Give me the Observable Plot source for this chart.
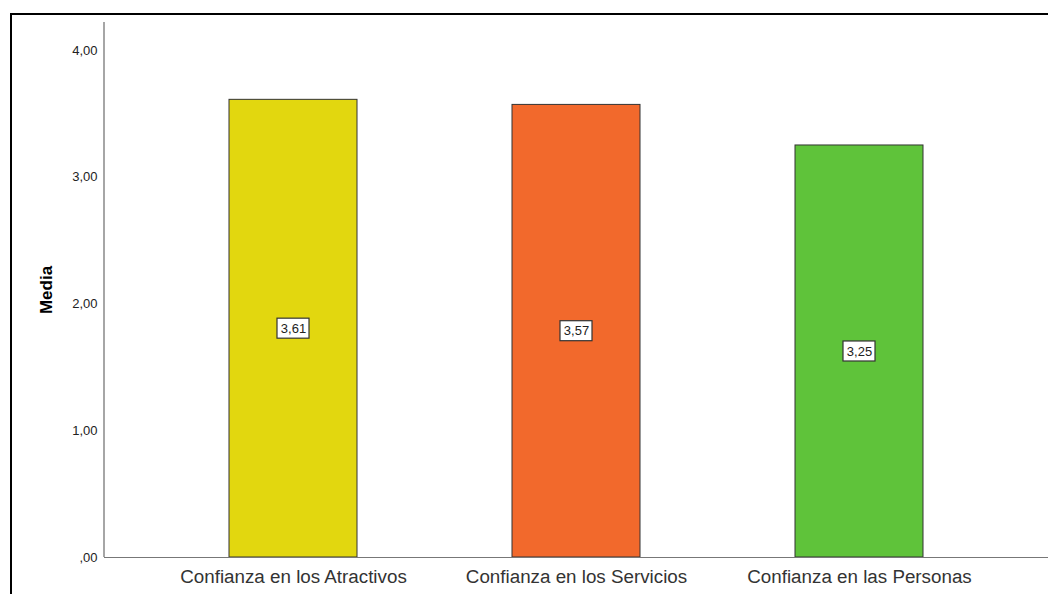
<!DOCTYPE html>
<html>
<head>
<meta charset="utf-8">
<script src="https://cdn.jsdelivr.net/npm/d3@7"></script>
<script src="https://cdn.jsdelivr.net/npm/@observablehq/plot@0.6"></script>
<style>
  html, body { margin: 0; padding: 0; background: #fff; }
  #wrap { position: relative; width: 1048px; height: 594px; overflow: hidden; }
  #frame { position: absolute; left: 10px; top: 13px; width: 1100px; height: 700px;
           border-left: 2px solid #000; border-top: 2px solid #000; pointer-events: none; }
  #chart { position: absolute; left: 0; top: 0; }
</style>
</head>
<body>
<div id="wrap"><div id="chart"></div><div id="frame"></div></div>
<script>
const categories = ["Confianza en los Atractivos", "Confianza en los Servicios", "Confianza en las Personas"];
const means = [3.61, 3.57, 3.25];
const colors = ["#e2d70f", "#f2692c", "#5fc33a"];
const yTicks = [0, 1, 2, 3, 4];
const yTickLabels = [",00", "1,00", "2,00", "3,00", "4,00"];
const yMax = 4.22;

const data = categories.map((c, i) => ({cat: categories[i], value: means[i], color: colors[i]}));
const fmt = v => v.toFixed(2).replace(".", ",");

const yAxisLine = (index, scales, values, dims) => {
  const x = dims.marginLeft;
  return d3.create("svg:line")
    .attr("x1", x).attr("x2", x)
    .attr("y1", scales.y(yMax)).attr("y2", scales.y(0))
    .attr("stroke", "#a6a6a6").attr("stroke-width", 2)
    .node();
};

const plot = Plot.plot({
  width: 1048,
  height: 594,
  marginLeft: 104,
  marginRight: 0,
  marginTop: 22,
  marginBottom: 37,
  style: {fontFamily: "'Liberation Sans', Arial, sans-serif", background: "transparent"},
  x: {domain: categories, paddingInner: 0.548, paddingOuter: 0.441, label: null},
  y: {domain: [0, yMax], label: null},
  marks: [
    Plot.barY(data, {x: "cat", y: "value", fill: "color", stroke: "#333", strokeWidth: 1}),
    Plot.ruleY([0], {stroke: "#777", strokeWidth: 1}),
    yAxisLine,
    Plot.axisY({ticks: yTicks, tickFormat: (d) => yTickLabels[yTicks.indexOf(d)], tickSize: 0, tickPadding: 7, fontSize: 13, fill: "#222", label: null}),
    Plot.axisX({tickSize: 0, tickPadding: 12, fontSize: 18.8, fill: "#333", label: null}),
    Plot.text(["Media"], {frameAnchor: "left", textAnchor: "middle", dx: -58, rotate: -90, fontWeight: "bold", fontSize: 17, fill: "#000"}),
    Plot.barY(data, {x: "cat", y1: d => d.value / 2, y2: d => d.value / 2,
      insetLeft: 48, insetRight: 48, insetTop: -10, insetBottom: -10,
      fill: "#fff", stroke: "#333", strokeWidth: 1.2}),
    Plot.text(data, {x: "cat", y: d => d.value / 2, text: d => fmt(d.value), fontSize: 13, fill: "#222"})
  ]
});
document.getElementById("chart").appendChild(plot);
</script>
</body>
</html>
